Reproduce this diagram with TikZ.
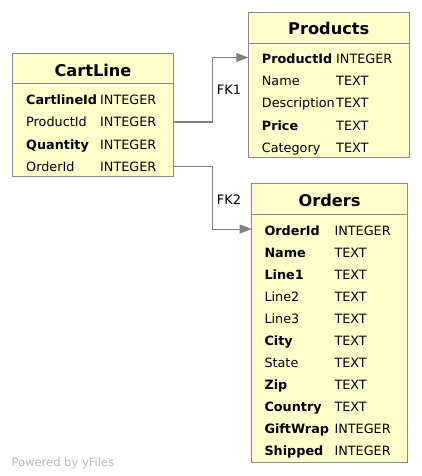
\documentclass[tikz,border=0pt]{standalone}
\usepackage{fontspec}
\setmainfont{DejaVu Sans}
\usetikzlibrary{arrows.meta}
\definecolor{boxfill}{HTML}{FFFFCC}
\definecolor{boxline}{HTML}{8A8A8A}
\definecolor{conn}{HTML}{808080}
\begin{document}
\begin{tikzpicture}[x=1pt,y=-1pt,
  tbl/.style={draw=boxline,fill=boxfill,line width=1pt},
  divline/.style={draw=boxline,line width=1pt},
  ttl/.style={anchor=base,font=\fontsize{16.2}{16}\selectfont\bfseries,inner sep=0pt},
  fld/.style={anchor=base west,font=\fontsize{12.8}{12.8}\selectfont,inner sep=0pt},
  bfld/.style={fld,font=\fontsize{12.8}{12.8}\selectfont\bfseries},
  typ/.style={anchor=base west,font=\fontsize{12.8}{12.8}\selectfont,inner sep=0pt},
  fk/.style={draw=conn,line width=1pt,-{Triangle[length=12pt,width=9pt,fill=conn]}},
  fklbl/.style={anchor=base west,font=\fontsize{13}{13}\selectfont,inner sep=0pt}]
\useasboundingbox (0,0) rectangle (422,476);

% CartLine
\path[tbl] (12.7,53.3) rectangle (173.3,176.7);
\draw[divline] (12.7,83.3) -- (173.3,83.3);
\node[ttl] (cartT) at (93,76.7) {CartLine};
\node[bfld] (c1) at (26,105) {CartlineId};
\node[fld]  (c2) at (26,127) {ProductId};
\node[bfld] (c3) at (26,149) {Quantity};
\node[fld]  (c4) at (26,171) {OrderId};
\node[typ] (c1t) at (100,105) {INTEGER};
\node[typ] (c2t) at (100,127) {INTEGER};
\node[typ] (c3t) at (100,149) {INTEGER};
\node[typ] (c4t) at (100,171) {INTEGER};
\coordinate (cProd) at (173.3,122);
\coordinate (cOrd) at (173.3,166);

% Products
\path[tbl] (248.3,12.7) rectangle (409.3,157.3);
\draw[divline] (248.3,43.3) -- (409.3,43.3);
\node[ttl] (prodT) at (328.8,35) {Products};
\node[bfld] (p1) at (261.7,64) {ProductId};
\node[fld]  (p2) at (261.7,86) {Name};
\node[fld]  (p3) at (261.7,108) {Description};
\node[bfld] (p4) at (261.7,130) {Price};
\node[fld]  (p5) at (261.7,152) {Category};
\node[typ] (p1t) at (336,64) {INTEGER};
\node[typ] (p2t) at (336,86) {TEXT};
\node[typ] (p3t) at (336,108) {TEXT};
\node[typ] (p4t) at (336,130) {TEXT};
\node[typ] (p5t) at (336,152) {TEXT};
\coordinate (pIn) at (248.3,57.5);

% Orders
\path[tbl] (251.7,183.3) rectangle (407.3,462.7);
\draw[divline] (251.7,214) -- (407.3,214);
\node[ttl] (ordT) at (329.5,206.7) {Orders};
\foreach \n/\t/\b [count=\i from 0] in {OrderId/INTEGER/1,Name/TEXT/1,Line1/TEXT/1,Line2/TEXT/0,Line3/TEXT/0,City/TEXT/1,State/TEXT/0,Zip/TEXT/1,Country/TEXT/1,GiftWrap/INTEGER/1,Shipped/INTEGER/1}{
  \ifnum\b=1
    \node[bfld] (o\i) at (264.3,235+22*\i) {\n};
  \else
    \node[fld] (o\i) at (264.3,235+22*\i) {\n};
  \fi
  \node[typ] (o\i t) at (334.3,235+22*\i) {\t};
}
\coordinate (oIn) at (251.7,229);

% connectors
\draw[fk] (cProd) -- (212,122) |- (pIn);
\draw[fk] (cOrd) -- (212,166) |- (oIn);
\node[fklbl] (fk1) at (216.7,94.3) {FK1};
\node[fklbl] (fk2) at (216.7,204.3) {FK2};

\node[anchor=base west,inner sep=0pt,font=\fontsize{11.5}{11.5}\selectfont,text=black!27] (yf) at (11.5,466) {Powered by yFiles};
\end{tikzpicture}
\end{document}
